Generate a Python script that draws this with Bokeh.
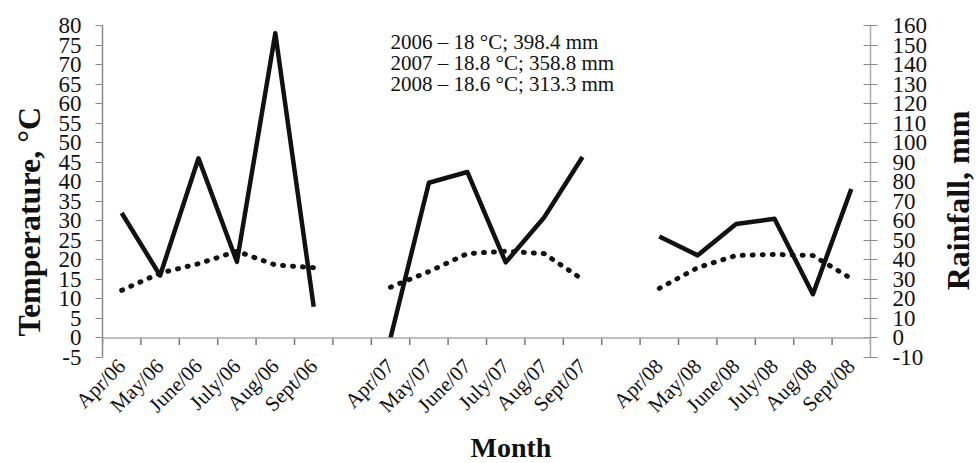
import math
from bokeh.plotting import figure
from bokeh.layouts import row
from bokeh.models import (FactorRange, Range1d, LinearAxis, CategoricalAxis,
                          FixedTicker, Label, Span, Title)
from bokeh.embed import file_html
from bokeh.resources import INLINE

# ---------------- data ----------------
months_2006 = ["Apr/06", "May/06", "June/06", "July/06", "Aug/06", "Sept/06"]
months_2007 = ["Apr/07", "May/07", "June/07", "July/07", "Aug/07", "Sept/07"]
months_2008 = ["Apr/08", "May/08", "June/08", "July/08", "Aug/08", "Sept/08"]
gap_slots = [" ", "  "]   # empty category slots between seasons

temperature_2006 = [12.2, 16.6, 19.0, 22.2, 18.7, 18.0]
temperature_2007 = [13.0, 17.0, 21.6, 22.2, 21.6, 15.0]
temperature_2008 = [12.7, 18.0, 21.1, 21.4, 21.1, 15.2]

rainfall_2006 = [64.0, 32.0, 92.0, 39.0, 156.0, 16.0]
rainfall_2007 = [0.0, 79.5, 85.0, 38.7, 61.7, 92.7]
rainfall_2008 = [52.0, 42.3, 58.4, 61.0, 22.4, 76.3]

summary_years = ["2006", "2007", "2008"]
summary_temp = ["18", "18.8", "18.6"]
summary_rain = ["398.4", "358.8", "313.3"]

temp_ticks = list(range(-5, 85, 5))
rain_ticks = list(range(-10, 170, 10))

factors = months_2006 + [gap_slots[0]] + months_2007 + [gap_slots[1]] + months_2008

# ---------------- main figure ----------------
SERIF = "Liberation Serif"
temp_range = Range1d(-5, 80)
p = figure(width=938, height=463,
           x_range=FactorRange(factors=factors, range_padding=0),
           y_range=temp_range,
           x_axis_location=None, y_axis_location=None,
           output_backend="svg", toolbar_location=None,
           min_border_left=102, min_border_right=68,
           min_border_top=25, min_border_bottom=104)
p.outline_line_color = None
p.xgrid.visible = False
p.ygrid.visible = False
p.background_fill_color = "white"
p.border_fill_color = "white"

p.extra_y_ranges = {"rain": Range1d(-10, 160)}

# left axis (temperature)
left_ax = LinearAxis(ticker=FixedTicker(ticks=temp_ticks))
left_ax.axis_line_color = "#8a8a8a"
left_ax.axis_line_width = 1.5
left_ax.major_tick_line_color = "#8a8a8a"
left_ax.major_tick_out = 7
left_ax.major_tick_in = 0
left_ax.minor_tick_line_color = None
left_ax.major_label_standoff = 14
left_ax.major_label_text_font = SERIF
left_ax.major_label_text_font_size = "23px"
left_ax.major_label_text_color = "#111111"
left_ax.major_label_overrides = {t: str(t) for t in temp_ticks if t < 0}
p.add_layout(left_ax, "left")

p.add_layout(Title(text="Temperature, \u00b0C", align="left", offset=21,
                   vertical_align="top",
                   text_font=SERIF, text_font_style="bold",
                   text_font_size="32px", text_color="#111111",
                   standoff=14), "left")

# right axis (rainfall)
right_ax = LinearAxis(y_range_name="rain", ticker=FixedTicker(ticks=rain_ticks))
right_ax.axis_line_color = "#aaaaaa"
right_ax.axis_line_width = 1.5
right_ax.major_tick_line_color = "#8a8a8a"
right_ax.major_tick_out = 7
right_ax.major_tick_in = 7
right_ax.minor_tick_line_color = None
right_ax.major_label_standoff = 15
right_ax.major_label_text_font = SERIF
right_ax.major_label_text_font_size = "23px"
right_ax.major_label_text_color = "#111111"
right_ax.major_label_overrides = {t: str(t) for t in rain_ticks if t < 0}
p.add_layout(right_ax, "right")

# category labels below the frame
cat_ax = CategoricalAxis()
cat_ax.axis_line_color = None
cat_ax.major_tick_line_color = None
cat_ax.major_tick_out = 0
cat_ax.major_tick_in = 0
cat_ax.major_label_orientation = math.pi / 4
cat_ax.major_label_standoff = 5
cat_ax.major_label_text_font = SERIF
cat_ax.major_label_text_font_size = "21px"
cat_ax.major_label_text_color = "#111111"
p.add_layout(cat_ax, "below")

p.add_layout(Title(text="Month", align="left", offset=368,
                   text_font=SERIF, text_font_style="bold",
                   text_font_size="28px", text_color="#111111",
                   standoff=2), "below")

# x axis line at zero, with tick marks between categories
p.add_layout(Span(location=0, dimension="width", line_color="#aaaaaa",
                  line_width=1.5))
boundaries = list(range(len(factors) + 1))
p.segment(x0=boundaries, x1=boundaries, y0=[0] * len(boundaries),
          y1=[-1.8] * len(boundaries), line_color="#777777", line_width=1.5)

# ---------------- series ----------------
for mlist, temps in ((months_2006, temperature_2006),
                     (months_2007, temperature_2007),
                     (months_2008, temperature_2008)):
    p.line(x=mlist, y=temps, line_color="#111111", line_width=5,
           line_dash="1 9", line_cap="round")

for mlist, rain in ((months_2006, rainfall_2006),
                    (months_2007, rainfall_2007),
                    (months_2008, rainfall_2008)):
    p.line(x=mlist, y=rain, y_range_name="rain", line_color="#111111",
           line_width=4.5, line_join="round")

# ---------------- summary text ----------------
for i, (yr, t, r) in enumerate(zip(summary_years, summary_temp, summary_rain)):
    p.add_layout(Label(x=7.5, y=75.9 - 5.5 * i, x_units="data", y_units="data",
                       text=f"{yr} \u2013 {t} \u00b0C; {r} mm",
                       text_font=SERIF, text_font_size="21px",
                       text_color="#111111", text_baseline="middle",
                       text_align="left"))

# ---------------- right-hand axis title strip ----------------
p2 = figure(width=40, height=463, x_range=Range1d(0, 40),
            y_range=temp_range,
            x_axis_location=None, y_axis_location=None,
            output_backend="svg", toolbar_location=None, min_border=0)
p2.outline_line_color = None
p2.xgrid.visible = False
p2.ygrid.visible = False
p2.border_fill_color = "white"
p2.add_layout(Label(x=19, y=35.2, text="Rainfall, mm", angle=math.pi / 2,
                    text_font=SERIF, text_font_style="bold",
                    text_font_size="32px", text_color="#111111",
                    text_align="center", text_baseline="middle"))

layout = row(p, p2, spacing=0)
open("out.html", "w").write(file_html(layout, INLINE))
